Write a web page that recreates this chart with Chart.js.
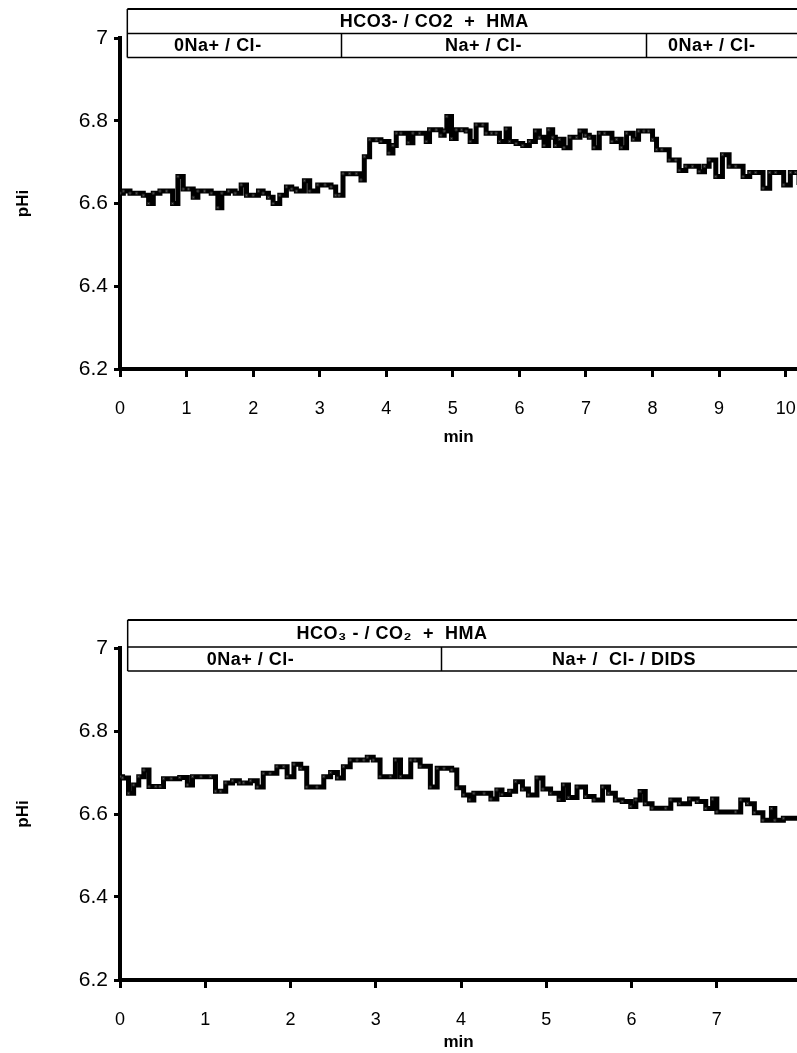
<!DOCTYPE html>
<html>
<head>
<meta charset="utf-8">
<script src="https://cdn.jsdelivr.net/npm/chart.js@4/dist/chart.umd.min.js"></script>
<style>
  body { margin: 0; background: #fff; width: 797px; height: 1053px; overflow: hidden; position: relative; }
  canvas { position: absolute; left: 0; }
  #chartTop { top: 0; }
  #chartBottom { top: 600px; }
</style>
</head>
<body>
<canvas id="chartTop" width="802" height="448"></canvas>
<canvas id="chartBottom" width="802" height="453"></canvas>
<script>
// top trace: HCO3-/CO2 + HMA, 0Na+ -> Na+ -> 0Na+
const timesTop = [0.00, 0.05, 0.15, 0.25, 0.35, 0.43, 0.50, 0.60, 0.70, 0.79, 0.87, 0.95, 1.03, 1.10, 1.17, 1.27, 1.37, 1.47, 1.53, 1.63,
  1.73, 1.82, 1.90, 2.00, 2.08, 2.15, 2.23, 2.30, 2.40, 2.50, 2.58, 2.65, 2.77, 2.85, 2.97, 3.08, 3.17, 3.24, 3.29, 3.35,
  3.45, 3.55, 3.62, 3.67, 3.75, 3.85, 3.92, 4.04, 4.10, 4.15, 4.22, 4.33, 4.40, 4.50, 4.60, 4.65, 4.75, 4.82, 4.87, 4.91,
  4.98, 5.05, 5.13, 5.20, 5.26, 5.35, 5.45, 5.50, 5.58, 5.65, 5.70, 5.80, 5.85, 5.95, 6.05, 6.15, 6.24, 6.30, 6.37, 6.44,
  6.50, 6.54, 6.60, 6.67, 6.76, 6.86, 6.91, 6.99, 7.05, 7.12, 7.20, 7.28, 7.39, 7.46, 7.53, 7.61, 7.71, 7.79, 7.87, 7.94,
  8.00, 8.06, 8.14, 8.25, 8.35, 8.40, 8.50, 8.60, 8.70, 8.78, 8.85, 8.95, 9.05, 9.15, 9.25, 9.36, 9.46, 9.55, 9.66, 9.76,
  9.85, 9.97, 10.07, 10.15, 10.20];
const phTop = [6.625, 6.63, 6.625, 6.625, 6.62, 6.60, 6.625, 6.63, 6.63, 6.60, 6.665, 6.635, 6.635, 6.615, 6.63, 6.63, 6.625, 6.59, 6.625, 6.63,
  6.625, 6.645, 6.62, 6.62, 6.63, 6.625, 6.615, 6.60, 6.62, 6.64, 6.635, 6.63, 6.655, 6.63, 6.645, 6.645, 6.64, 6.62, 6.62, 6.672,
  6.672, 6.672, 6.657, 6.713, 6.754, 6.754, 6.75, 6.722, 6.74, 6.77, 6.77, 6.747, 6.77, 6.77, 6.75, 6.778, 6.778, 6.765, 6.775, 6.81,
  6.757, 6.778, 6.778, 6.775, 6.75, 6.79, 6.79, 6.77, 6.77, 6.77, 6.75, 6.78, 6.75, 6.745, 6.74, 6.75, 6.775, 6.76, 6.74, 6.778,
  6.76, 6.74, 6.755, 6.735, 6.76, 6.76, 6.775, 6.765, 6.76, 6.735, 6.77, 6.77, 6.75, 6.755, 6.735, 6.77, 6.755, 6.775, 6.775, 6.775,
  6.755, 6.73, 6.73, 6.705, 6.705, 6.68, 6.69, 6.69, 6.677, 6.69, 6.705, 6.665, 6.718, 6.69, 6.69, 6.665, 6.675, 6.675, 6.637, 6.675,
  6.675, 6.645, 6.675, 6.675, 6.645];

// bottom trace: HCO3-/CO2 + HMA, 0Na+ -> Na+ with DIDS
const timesBottom = [0.00, 0.03, 0.10, 0.16, 0.22, 0.28, 0.34, 0.42, 0.47, 0.51, 0.60, 0.70, 0.79, 0.85, 0.95, 1.06, 1.12, 1.18, 1.24, 1.32,
  1.40, 1.45, 1.53, 1.61, 1.68, 1.76, 1.84, 1.92, 1.96, 2.04, 2.12, 2.19, 2.31, 2.39, 2.47, 2.55, 2.62, 2.70, 2.78, 2.86,
  2.90, 2.97, 3.05, 3.17, 3.23, 3.29, 3.41, 3.46, 3.52, 3.64, 3.72, 3.80, 3.89, 3.95, 4.03, 4.10, 4.15, 4.27, 4.35, 4.42,
  4.48, 4.57, 4.64, 4.72, 4.79, 4.89, 4.96, 5.05, 5.15, 5.20, 5.26, 5.36, 5.46, 5.56, 5.66, 5.73, 5.81, 5.89, 5.99, 6.05,
  6.10, 6.16, 6.24, 6.40, 6.46, 6.56, 6.68, 6.77, 6.87, 6.95, 7.00, 7.22, 7.28, 7.36, 7.44, 7.54, 7.64, 7.68, 7.78, 7.96];
const phBottom = [6.69, 6.687, 6.65, 6.67, 6.69, 6.706, 6.666, 6.666, 6.666, 6.685, 6.685, 6.688, 6.67, 6.69, 6.69, 6.69, 6.655, 6.655, 6.675, 6.68,
  6.675, 6.675, 6.68, 6.665, 6.698, 6.698, 6.714, 6.714, 6.69, 6.72, 6.71, 6.665, 6.665, 6.69, 6.70, 6.687, 6.714, 6.73, 6.73, 6.73,
  6.737, 6.73, 6.69, 6.69, 6.73, 6.69, 6.73, 6.73, 6.715, 6.665, 6.71, 6.71, 6.706, 6.663, 6.646, 6.634, 6.65, 6.65, 6.636, 6.658,
  6.647, 6.655, 6.678, 6.66, 6.646, 6.687, 6.66, 6.65, 6.635, 6.67, 6.64, 6.665, 6.642, 6.634, 6.665, 6.65, 6.634, 6.63, 6.618, 6.634,
  6.654, 6.625, 6.614, 6.614, 6.634, 6.625, 6.636, 6.63, 6.613, 6.636, 6.605, 6.605, 6.634, 6.625, 6.603, 6.585, 6.613, 6.585, 6.59, 6.59];

const yTicks = [6.2, 6.4, 6.6, 6.8, 7];

// solution bars above each trace
const headerTitleTop = "HCO3- / CO2  +  HMA";
const headerTitleBottom = "HCO\u2083 - / CO\u2082  +  HMA";
const periodsTop = ["0Na+ / Cl-", "Na+ / Cl-", "0Na+ / Cl-"];
const changesTop = [3.32, 7.9];
const periodsBottom = ["0Na+ / Cl-", "Na+ /  Cl- / DIDS"];
const changesBottom = [3.76];

const FONT = '"Liberation Sans", Arial, sans-serif';

const solutionHeader = {
  id: 'solutionHeader',
  afterDraw(chart, args, opts) {
    const { ctx, chartArea, scales } = chart;
    const x = scales.x;
    const top = chartArea.top + opts.boxTop;
    const mid = chartArea.top + opts.boxMid;
    const bot = chartArea.top + opts.boxBottom;
    const left = x.getPixelForValue(opts.start);
    const right = chart.width + 4;
    ctx.save();
    ctx.strokeStyle = '#000';
    ctx.lineWidth = 2;
    ctx.beginPath();
    ctx.moveTo(left, top); ctx.lineTo(right, top);
    ctx.stroke();
    ctx.lineWidth = 1.5;
    ctx.beginPath();
    ctx.moveTo(left, top); ctx.lineTo(left, bot);
    ctx.moveTo(left, mid); ctx.lineTo(right, mid);
    ctx.moveTo(left, bot); ctx.lineTo(right, bot);
    opts.changes.forEach(t => {
      const px = Math.round(x.getPixelForValue(t)) + 0.5;
      ctx.moveTo(px, mid); ctx.lineTo(px, bot);
    });
    ctx.stroke();
    ctx.fillStyle = '#000';
    ctx.font = 'bold 18px ' + FONT;
    ctx.letterSpacing = '0.5px';
    ctx.textAlign = 'center';
    ctx.textBaseline = 'middle';
    ctx.fillText(opts.title, x.getPixelForValue(opts.titleAt), (top + mid) / 2 + 1);
    opts.periods.forEach((p, i) => {
      ctx.fillText(p, x.getPixelForValue(opts.labelAt[i]), (mid + bot) / 2 + 1);
    });
    ctx.restore();
  }
};

function makeChart(id, times, values, xMax, xHeight, header) {
  const points = times.map((t, i) => ({ x: t, y: values[i] }));
  return new Chart(document.getElementById(id), {
    type: 'line',
    data: {
      datasets: [{
        data: points,
        stepped: true,
        borderColor: '#000',
        borderWidth: 5,
        pointStyle: 'rect',
        pointRadius: 1.5,
        pointBackgroundColor: '#666',
        pointBorderColor: '#222',
        pointBorderWidth: 1
      }]
    },
    options: {
      responsive: false,
      animation: false,
      devicePixelRatio: 1,
      layout: { padding: { top: header.padTop, right: 0, left: 0, bottom: 0 } },
      plugins: {
        legend: { display: false },
        tooltip: { enabled: false },
        solutionHeader: header
      },
      scales: {
        x: {
          type: 'linear',
          min: 0,
          max: xMax,
          afterFit: s => { s.height = xHeight; s.paddingLeft = 0; s.paddingRight = 0; },
          ticks: {
            stepSize: 1,
            includeBounds: false,
            color: '#000',
            padding: header.xTickPad,
            font: { family: FONT, size: 18 }
          },
          grid: { drawOnChartArea: false, drawTicks: true, tickLength: 8, tickWidth: 3, tickColor: '#000' },
          border: { display: true, color: '#000', width: 4 },
          title: {
            display: true,
            text: 'min',
            color: '#000',
            padding: { top: header.minPad, bottom: 0 },
            font: { family: FONT, size: 17, weight: 'bold' }
          }
        },
        y: {
          min: 6.2,
          max: 7,
          afterFit: s => { s.width = 120; },
          afterBuildTicks: s => { s.ticks = yTicks.map(v => ({ value: v })); },
          ticks: {
            color: '#000',
            padding: 6,
            callback: v => String(Math.round(v * 10) / 10),
            font: { family: FONT, size: 21 }
          },
          grid: { drawOnChartArea: false, drawTicks: true, tickLength: 6, tickWidth: 3, tickColor: '#000' },
          border: { display: true, color: '#000', width: 4 },
          title: {
            display: true,
            text: 'pHi',
            color: '#000',
            padding: { top: 13, bottom: 0 },
            font: { family: FONT, size: 17, weight: 'bold' }
          }
        }
      }
    },
    plugins: [solutionHeader]
  });
}

makeChart('chartTop', timesTop, phTop, 10.17, 79, {
  padTop: 38, xTickPad: 21, minPad: 4,
  boxTop: -29, boxMid: -4.5, boxBottom: 19.5, start: 0.11,
  title: headerTitleTop, titleAt: 4.72,
  periods: periodsTop, changes: changesTop, labelAt: [1.47, 5.46, 8.89]
});

makeChart('chartBottom', timesBottom, phBottom, 7.94, 73, {
  padTop: 48, xTickPad: 21, minPad: 2,
  boxTop: -28, boxMid: -1, boxBottom: 23, start: 0.09,
  title: headerTitleBottom, titleAt: 3.19,
  periods: periodsBottom, changes: changesBottom, labelAt: [1.53, 5.91]
});
</script>
</body>
</html>
